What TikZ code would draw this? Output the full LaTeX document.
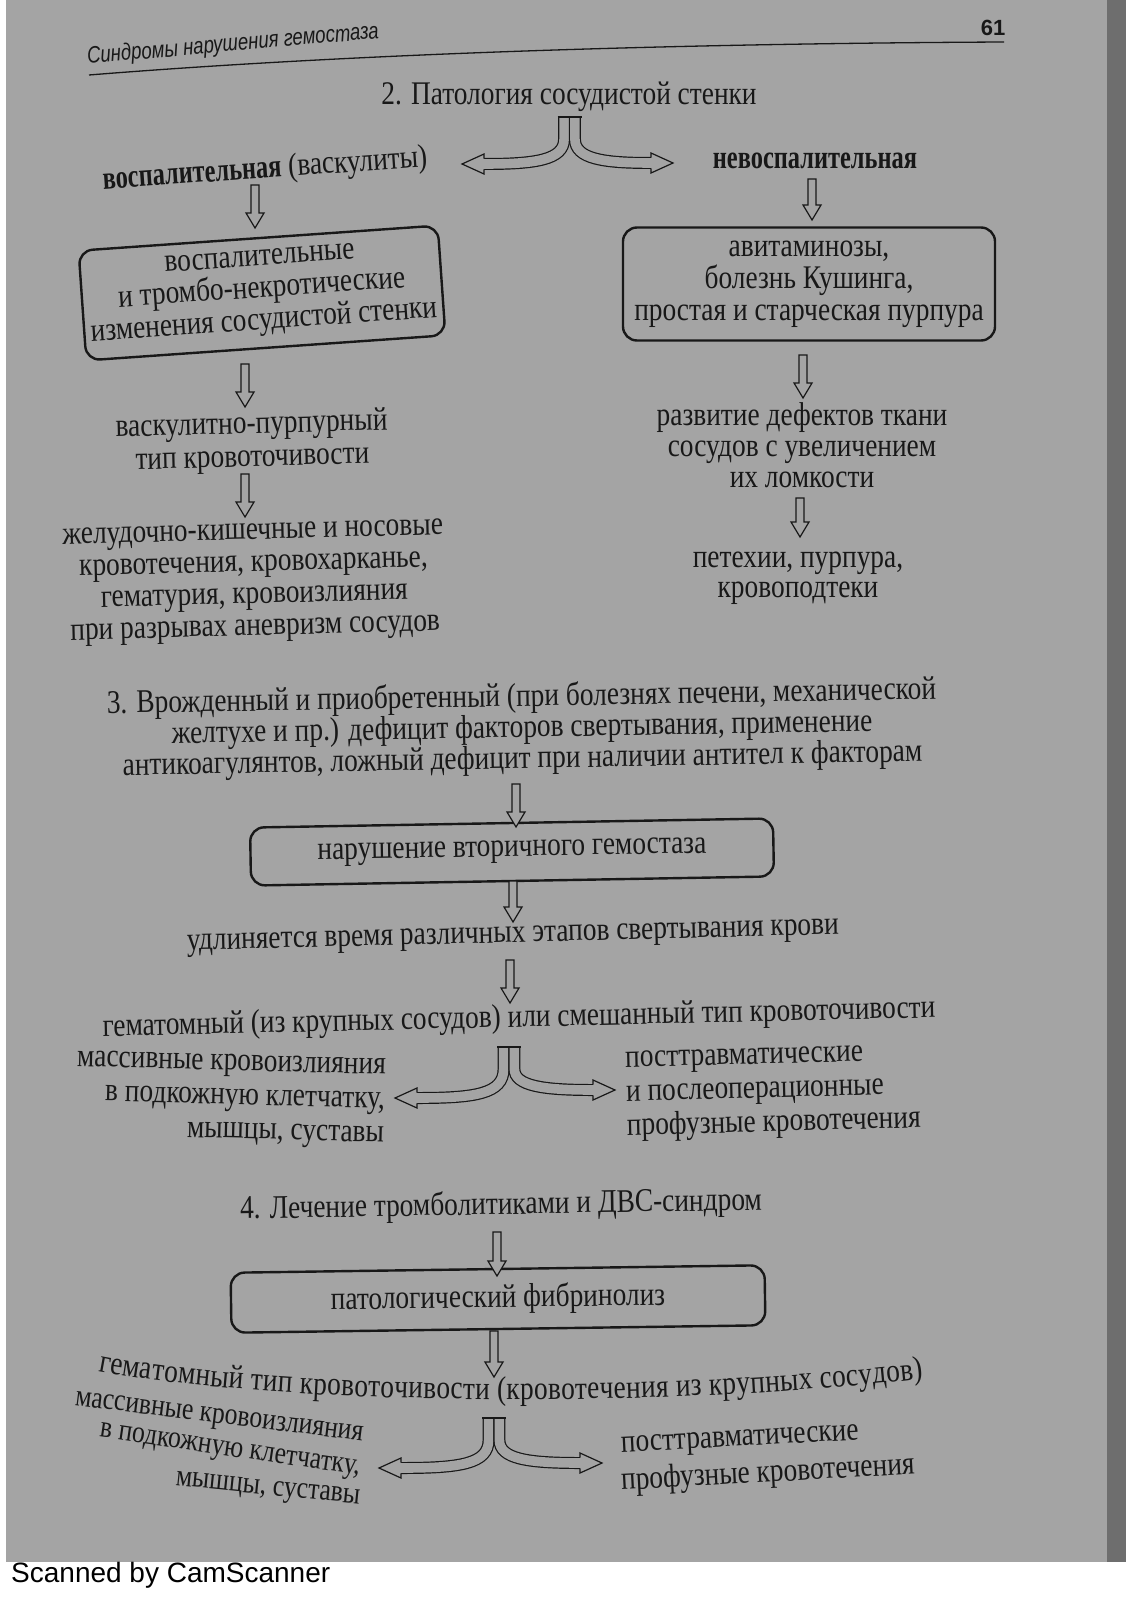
\documentclass[tikz,border=0pt]{standalone}
\usepackage{fontspec}
\setmainfont{Liberation Serif}[FakeStretch=0.83]
\setsansfont{Liberation Sans}
\newfontfamily\narrowbold{Liberation Serif}[FakeStretch=0.74]
\newfontfamily\hdrfont{Liberation Sans}[FakeStretch=0.79]
\usetikzlibrary{calc,decorations.text}

\definecolor{pagegray}{RGB}{164,164,164}
\definecolor{edgegray}{RGB}{110,110,110}
\definecolor{inkc}{RGB}{24,24,24}
\newcommand\bodyfont{\fontsize{33}{32}\selectfont}

\tikzset{
  box/.style={draw=inkc, line width=2.4pt, rounded corners=14pt},
  tube/.style={draw=inkc, line width=1.2pt, double=pagegray, double distance=9.6pt},
  hollowdown/.style={draw=inkc, line width=1.2pt, fill=pagegray, line join=miter,
    to path={let \p1=(\tikztostart), \p2=(\tikztotarget) in
      (\x1-4pt,\y1) -- (\x1+4pt,\y1) -- (\x1+4pt,\y2+15pt) -- (\x1+9pt,\y2+15pt)
      -- (\x1,\y2) -- (\x1-9pt,\y2+15pt) -- (\x1-4pt,\y2+15pt) -- cycle}},
  pics/hhead/.style={code={
    \filldraw[fill=pagegray, draw=inkc, line width=1.2pt, line join=miter]
      (-22,-5.4) -- (-22,-10) -- (0,0) -- (-22,10) -- (-22,5.4);}},
}

\begin{document}
\begin{tikzpicture}[x=1pt, y=-1pt,
    every node/.style={font=\bodyfont, text=inkc, align=center, inner sep=0pt}]
  % 画布 1131x1600 pt，y 轴向下，坐标即扫描件像素

  \useasboundingbox (0,0) rectangle (1131,1600);
  \fill[white] (0,0) rectangle (1131,1600);
  \fill[pagegray] (6,0) rectangle (1107,1562);
  \fill[edgegray] (1107,0) rectangle (1126,1562);

  % ── E0 页眉 ──
  \node[font=\hdrfont\itshape\fontsize{23.5}{26}\selectfont, rotate=5] (hdr) at (233,45)
    {Синдромы нарушения гемостаза};
  \node[font=\sffamily\bfseries\fontsize{22}{24}\selectfont] (pgno) at (993,28) {61};
  \draw[line width=1.3pt, inkc] (89,75) .. controls (300,58) and (600,44) .. (1004,42);

  % ── E1 第 2 节：血管壁病变 ──
  \node (title2) at (569,97) {2. Патология сосудистой стенки};
  \node[rotate=4] (inflam) at (265,170) {{\narrowbold\bfseries воспалительная} (васкулиты)};
  \node[font=\bodyfont\narrowbold\bfseries] (noninflam) at (815,161) {невоспалительная};

  \node[box, rotate=4, minimum width=360pt, minimum height=110pt] (boxL) at (262,293)
    {воспалительные\\и тромбо-некротические\\изменения сосудистой стенки};
  \node[box, minimum width=372pt, minimum height=113pt] (boxR) at (809,284)
    {авитаминозы,\\болезнь Кушинга,\\простая и старческая пурпура};

  % 左列
  \node[font=\fontsize{33}{33}\selectfont, rotate=1.5] (vascpurp) at (252,442)
    {васкулитно-пурпурный\\тип кровоточивости};
  \node[rotate=1.5] (bleedL) at (254,583)
    {желудочно-кишечные и носовые\\кровотечения, кровохарканье,\\гематурия, кровоизлияния\\при разрывах аневризм сосудов};
  % 右列
  \node[font=\fontsize{33}{31}\selectfont] (defects) at (802,445)
    {развитие дефектов ткани\\сосудов с увеличением\\их ломкости};
  \node[font=\fontsize{33}{30}\selectfont] (petech) at (798,578) {петехии, пурпура,\\кровоподтеки};

  \draw[hollowdown] ([shift={(-10,15)}]inflam.center) to ([shift={(-7,-65)}]boxL.center);
  \draw[hollowdown] ([shift={(-3,18)}]noninflam.center) to ([shift={(3,-64)}]boxR.center);
  \draw[hollowdown] ([shift={(-17,71)}]boxL.center) to ([shift={(-7,-35)}]vascpurp.center);
  \draw[hollowdown] ([shift={(-7,32)}]vascpurp.center) to ([shift={(-9,-66)}]bleedL.center);
  \draw[hollowdown] ([shift={(-6,71)}]boxR.center) to ([shift={(1,-47)}]defects.center);
  \draw[hollowdown] ([shift={(-2,53)}]defects.center) to ([shift={(2,-41)}]petech.center);

  % ── E2 第 3 节：凝血因子缺乏 ──
  \node[font=\fontsize{33}{31}\selectfont, rotate=1] (title3) at (522,729)
    {3. Врожденный и приобретенный (при болезнях печени, механической\\желтухе и пр.) дефицит факторов свертывания, применение\\антикоагулянтов, ложный дефицит при наличии антител к факторам};
  \node[box, rotate=1, minimum width=523pt, minimum height=58pt] (boxSec) at (512,852)
    {нарушение вторичного гемостаза};
  \node[rotate=1.4] (prolong) at (513,938) {удлиняется время различных этапов свертывания крови};
  \node[rotate=1.3] (hematom) at (519,1019)
    {гематомный (из крупных сосудов) или смешанный тип кровоточивости};
  \node[font=\fontsize{33}{34}\selectfont, anchor=east, align=right, rotate=-1.5] (massL) at (385,1104)
    {массивные кровоизлияния\\в подкожную клетчатку,\\мышцы, суставы};
  \node[font=\fontsize{33}{34}\selectfont, anchor=west, align=left, rotate=1.5] (profR) at (626,1097)
    {посттравматические\\и послеоперационные\\профузные кровотечения};

  \draw[hollowdown] ([shift={(-6,55)}]title3.center) to ([shift={(4,-25)}]boxSec.center);
  \draw[hollowdown] ([shift={(1,29)}]boxSec.center) to ([shift={(0,-16)}]prolong.center);
  \draw[hollowdown] ([shift={(-3,22)}]prolong.center) to ([shift={(-9,-16)}]hematom.center);

  % ── E3 第 4 节：病理性纤溶 ──
  \node[rotate=1] (title4) at (501,1206) {4. Лечение тромболитиками и ДВС-синдром};
  \node[box, rotate=0.8, minimum width=534pt, minimum height=60pt] (boxFib) at (498,1299)
    {патологический фибринолиз};
  % 扫描页弯曲：这一行沿曲线排
  \path[decorate, decoration={text along path, text color=inkc, text align={fit to path},
      text={|\bodyfont|гематомный тип кровоточивости (кровотечения из крупных сосудов)}}]
    (98,1371) .. controls (260,1402) and (620,1412) .. (922,1379);
  \coordinate (hem2) at (495,1395);
  \node[font=\fontsize{31}{32}\selectfont, anchor=east, rotate=-7.1] (massA) at (363,1437)
    {массивные кровоизлияния};
  \node[font=\fontsize{31}{32}\selectfont, anchor=east, rotate=-8.3] (massB) at (360,1471)
    {в подкожную клетчатку,};
  \node[font=\fontsize{31}{32}\selectfont, anchor=east, rotate=-5.8] (massC) at (360,1500)
    {мышцы, суставы};
  \node[anchor=west, rotate=3] (profA) at (621,1448) {посттравматические};
  \node[anchor=west, rotate=3.1] (profB) at (621,1482) {профузные кровотечения};

  \draw[hollowdown] ([shift={(-4,26)}]title4.center) to ([shift={(-1,-23)}]boxFib.center);
  \draw[hollowdown] ([shift={(-4,32)}]boxFib.center) to ([shift={(-1,-18)}]hem2);

  % ── E4 分叉箭头（双线管 + 空心箭头）──
  \foreach \cx/\ty/\lx/\ly/\rx/\ry in {569.5/117/462/164/673/163,
      509/1047/395/1098/615/1090, 494/1418/379/1468/602/1463}{
    \draw[tube] (\cx-5.4,\ty) -- (\cx-5.4,\ty+22)
      .. controls (\cx-5.4,\ly-4) and (\cx-34,\ly) .. (\lx+22,\ly);
    \draw[tube] (\cx+5.4,\ty) -- (\cx+5.4,\ty+22)
      .. controls (\cx+5.4,\ry-4) and (\cx+34,\ry) .. (\rx-22,\ry);
    \draw[line width=1.2pt, inkc] (\cx-12,\ty) -- (\cx+12,\ty);
    \pic[rotate=180] at (\lx,\ly) {hhead};
    \pic at (\rx,\ry) {hhead}; }

  % ── E5 扫描水印 ──
  \node[font=\sffamily\fontsize{28}{30}\selectfont, text=black, anchor=base west] (scan) at (11,1582)
    {Scanned by CamScanner};
\end{tikzpicture}
\end{document}
